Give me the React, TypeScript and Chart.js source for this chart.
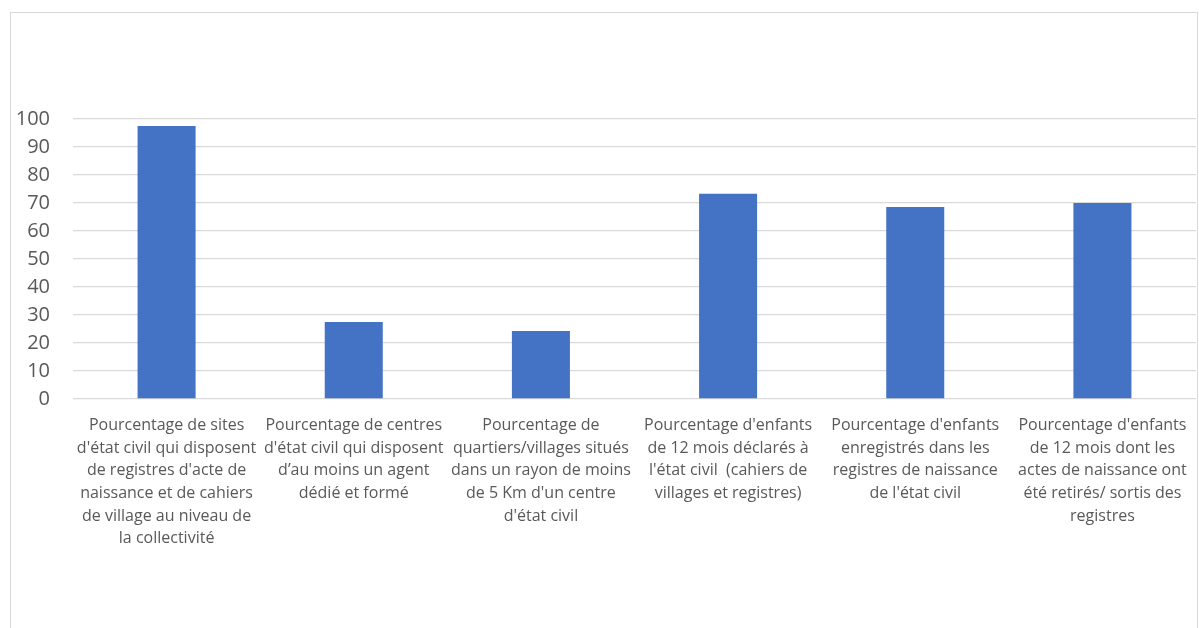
import React, { useEffect, useRef } from "react";
import { Chart, registerables } from "chart.js";

Chart.register(...registerables);

const categories: string[][] = [
  ["Pourcentage de sites", "d'état civil qui disposent", "de registres d'acte de", "naissance et de cahiers", "de village au niveau de", "la collectivité"],
  ["Pourcentage de centres", "d'état civil qui disposent", "d’au moins un agent", "dédié et formé"],
  ["Pourcentage de", "quartiers/villages situés", "dans un rayon de moins", "de 5 Km d'un centre", "d'état civil"],
  ["Pourcentage d'enfants", "de 12 mois déclarés à", "l'état civil  (cahiers de", "villages et registres)"],
  ["Pourcentage d'enfants", "enregistrés dans les", "registres de naissance", "de l'état civil"],
  ["Pourcentage d'enfants", "de 12 mois dont les", "actes de naissance ont", "été retirés/ sortis des", "registres"],
];

const values: number[] = [97.5, 27.5, 24.3, 73.3, 68.6, 70];

const yTicks: number[] = [0, 10, 20, 30, 40, 50, 60, 70, 80, 90, 100];

export default function App() {
  const ref = useRef<HTMLCanvasElement | null>(null);

  useEffect(() => {
    document.body.style.margin = "0";
    const ctx = ref.current!;
    const chart = new Chart(ctx, {
      type: "bar",
      data: {
        labels: categories,
        datasets: [
          {
            data: values,
            backgroundColor: "#4472C4",
            borderWidth: 0,
            categoryPercentage: 1,
            barPercentage: 0.31,
          },
        ],
      },
      options: {
        animation: false,
        responsive: false,
        devicePixelRatio: 1,
        layout: { padding: { top: 119, right: 3, left: 0, bottom: 0 } },
        plugins: { legend: { display: false }, tooltip: { enabled: false } },
        scales: {
          x: {
            grid: { display: false },
            border: { display: false },
            ticks: {
              autoSkip: false,
              maxRotation: 0,
              minRotation: 0,
              color: "#595959",
              padding: 7,
              font: { family: "'Open Sans'", size: 16, lineHeight: "22.7px" },
            },
            afterFit: (s: any) => {
              s.height = 229;
            },
          },
          y: {
            min: 0,
            max: 100,
            afterBuildTicks: (s: any) => {
              s.ticks = yTicks.map((v) => ({ value: v }));
            },
            grid: { color: "#d9d9d9", lineWidth: 1.3, drawTicks: false },
            border: { display: false },
            ticks: {
              color: "#595959",
              padding: 23,
              font: { family: "'Open Sans'", size: 20 },
            },
            afterFit: (s: any) => {
              s.width = 73;
            },
          },
        },
      },
    });
    return () => chart.destroy();
  }, []);

  return (
    <div style={{ position: "fixed", left: 0, top: 0, width: 1199, height: 628, background: "#fff", overflow: "hidden" }}>
      <canvas ref={ref} width={1199} height={628} style={{ position: "absolute", left: 0, top: 0 }} />
      <div
        style={{
          position: "absolute",
          left: 10,
          top: 12,
          width: 1186,
          height: 700,
          border: "1.5px solid #d9d9d9",
          pointerEvents: "none",
        }}
      />
    </div>
  );
}
